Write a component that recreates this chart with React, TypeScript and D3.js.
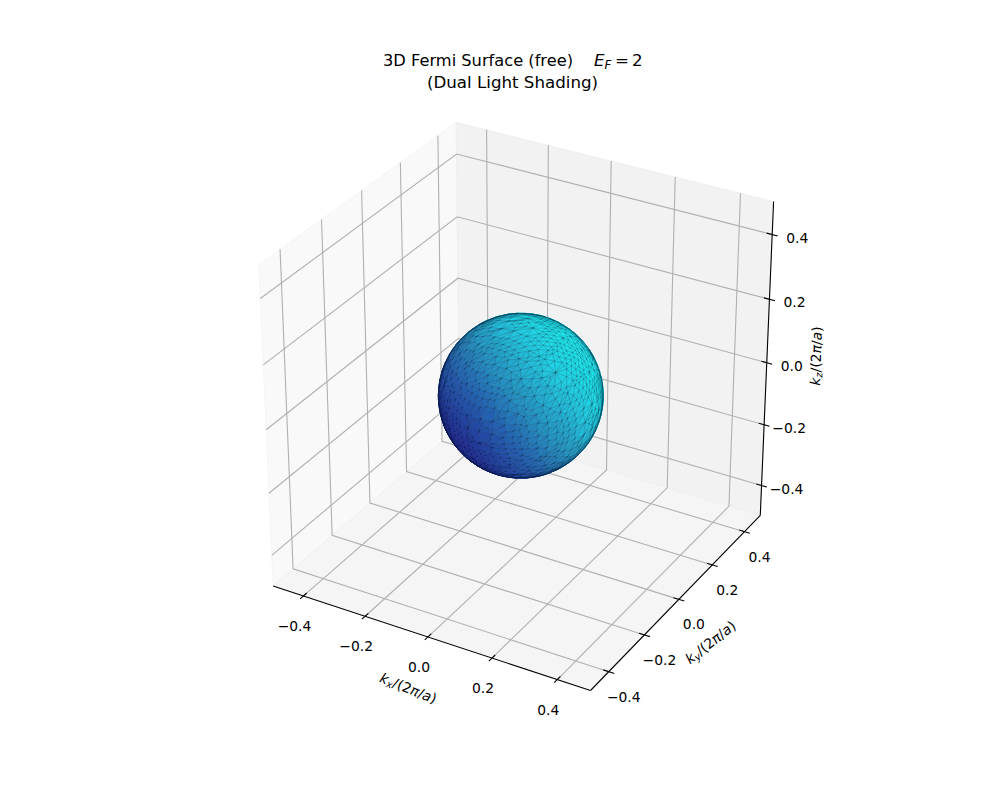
import React from "react";
import * as d3 from "d3";

const W = 1000, H = 800;
const limits = [-0.5, 0.5];
const tickValues = [-0.4, -0.2, 0.0, 0.2, 0.4];
const tickLabels = ["−0.4", "−0.2", "0.0", "0.2", "0.4"];
const fermiEnergy = 2;
const meshStep = 0.037;
const snapStep = 0.008;
const smoothPasses = 1;
const rampStops = [0, 0.25, 0.5, 0.75, 1];
const rampColors = ["#202c94", "#245cb0", "#2592c2", "#22c4dc", "#1ce8ee"];

type V3 = [number, number, number];
const dot = (a: V3, b: V3) => a[0] * b[0] + a[1] * b[1] + a[2] * b[2];
const cross = (a: V3, b: V3): V3 => [a[1] * b[2] - a[2] * b[1], a[2] * b[0] - a[0] * b[2], a[0] * b[1] - a[1] * b[0]];
const norm = (a: V3): V3 => { const l = Math.hypot(a[0], a[1], a[2]); return [a[0] / l, a[1] / l, a[2] / l]; };

// matplotlib mplot3d camera: elev 30, azim -60, dist 10, box aspect 1:1:1
const el = (30 * Math.PI) / 180, az = (-60 * Math.PI) / 180, dist = 10;
const side = (1.8294640721620434 * 25) / 24 / Math.sqrt(3);
const camW: V3 = [Math.cos(el) * Math.cos(az), Math.cos(el) * Math.sin(az), Math.sin(el)];
const camU = norm(cross([0, 0, 1], camW));
const camV = cross(camW, camU);
const world = d3.scaleLinear().domain(limits).range([-side / 2, side / 2]);
const sx = d3.scaleLinear().domain([-0.95 / dist, 0.9 / dist]).range([204.5, 820.5]);
const sy = d3.scaleLinear().domain([-0.95 / dist, 0.9 / dist]).range([712, 96]);

function project(p: V3): [number, number] {
  const q: V3 = [world(p[0]), world(p[1]), world(p[2])];
  const d = dist - dot(q, camW);
  return [sx(dot(q, camU) / d), sy(dot(q, camV) / d)];
}

const path = (pts: V3[], close = false) => {
  const s = d3.line()(pts.map(project)) as string;
  return close ? s + "Z" : s;
};

// Isosurface E(k) = E_F of the free-electron sphere: marching tetrahedra on a k grid,
// with close vertices merged and a little relaxation on the sphere
const radius = Math.sqrt(fermiEnergy) / (2 * Math.PI);
const tetra = [
  [0, 1, 3, 7], [0, 3, 2, 7], [0, 2, 6, 7], [0, 6, 4, 7], [0, 4, 5, 7], [0, 5, 1, 7],
];
function buildMesh() {
  const verts: V3[] = [];
  const index = new Map<string, number>();
  const faces: number[][] = [];
  const f = (p: V3) => Math.hypot(p[0], p[1], p[2]) - radius;
  const vid = (a: V3, b: V3) => {
    const fa = f(a), fb = f(b), t = fa / (fa - fb);
    const p = norm([a[0] + (b[0] - a[0]) * t, a[1] + (b[1] - a[1]) * t, a[2] + (b[2] - a[2]) * t]).map((c) => c * radius) as V3;
    const key = p.map((c) => Math.round(c / snapStep)).join(",");
    if (!index.has(key)) { index.set(key, verts.length); verts.push(p); }
    return index.get(key) as number;
  };
  const push = (a: number, b: number, c: number) => {
    if (a !== b && b !== c && a !== c) faces.push([a, b, c]);
  };
  const grid = d3.range(-0.2955, 0.3, meshStep);
  for (const x of grid) for (const y of grid) for (const z of grid) {
    const cube: V3[] = d3.range(8).map((i) => [x + (i & 1 ? meshStep : 0), y + (i & 2 ? meshStep : 0), z + (i & 4 ? meshStep : 0)] as V3);
    for (const t of tetra) {
      const vs = t.map((i) => cube[i]);
      const ins = vs.filter((v) => f(v) < 0), out = vs.filter((v) => f(v) >= 0);
      if (ins.length === 1) push(vid(ins[0], out[0]), vid(ins[0], out[1]), vid(ins[0], out[2]));
      else if (ins.length === 3) push(vid(ins[0], out[0]), vid(ins[1], out[0]), vid(ins[2], out[0]));
      else if (ins.length === 2) {
        const a = vid(ins[0], out[0]), b = vid(ins[0], out[1]), c = vid(ins[1], out[1]), d = vid(ins[1], out[0]);
        push(a, b, c); push(a, c, d);
      }
    }
  }
  const nbrs: Set<number>[] = verts.map(() => new Set<number>());
  for (const [a, b, c] of faces) {
    nbrs[a].add(b).add(c); nbrs[b].add(a).add(c); nbrs[c].add(a).add(b);
  }
  for (let pass = 0; pass < smoothPasses; pass++) {
    const next = verts.map((v, i) => {
      const s: V3 = [0, 0, 0];
      nbrs[i].forEach((j) => { s[0] += verts[j][0]; s[1] += verts[j][1]; s[2] += verts[j][2]; });
      const n = Math.max(nbrs[i].size, 1);
      return norm([v[0] * 0.5 + (0.5 * s[0]) / n, v[1] * 0.5 + (0.5 * s[1]) / n, v[2] * 0.5 + (0.5 * s[2]) / n]).map((c) => c * radius) as V3;
    });
    next.forEach((v, i) => { verts[i] = v; });
  }
  const tris: { pts: V3[]; n: V3; depth: number }[] = [];
  const edges = new Map<string, [number, number]>();
  for (const [a, b, c] of faces) {
    const n = norm([verts[a][0] + verts[b][0] + verts[c][0], verts[a][1] + verts[b][1] + verts[c][1], verts[a][2] + verts[b][2] + verts[c][2]]);
    const depth = dot(n, camW);
    if (depth < -0.06) continue;
    tris.push({ pts: [verts[a], verts[b], verts[c]], n, depth });
    if (depth < -0.01) continue;
    for (const [p, q] of [[a, b], [b, c], [c, a]]) edges.set(p < q ? `${p}_${q}` : `${q}_${p}`, p < q ? [p, q] : [q, p]);
  }
  tris.sort((p, q) => p.depth - q.depth);
  const edgePath = Array.from(edges.values()).map(([p, q]) => path([verts[p], verts[q]])).join("");
  return { tris, edgePath };
}
const ramp = d3.scaleLinear<string>().domain(rampStops).range(rampColors).clamp(true);
const shade = (n: V3) => {
  const a = dot(n, camU), b = dot(n, camV);
  return ramp(0.53 + 0.45 * a + 0.36 * b);
};

const mesh = buildMesh();
const [lo, hi] = limits;
const tickLine = (p: V3, dir: V3) => {
  const inn = 0.2 / 12, out = 0.2 / 12;
  return path([
    [p[0] - dir[0] * inn, p[1] - dir[1] * inn, p[2] - dir[2] * inn],
    [p[0] + dir[0] * out, p[1] + dir[1] * out, p[2] + dir[2] * out],
  ]);
};

const axisSpecs = [
  { at: (t: number): V3 => [t, lo, lo], dir: [0, -1, 0] as V3, dx: -9, dy: 30 },
  { at: (t: number): V3 => [hi, t, lo], dir: [1, 0, 0] as V3, dx: 15, dy: 25 },
  { at: (t: number): V3 => [hi, hi, t], dir: [1, 0, 0] as V3, dx: 25, dy: 3 },
];

const font = "'DejaVu Sans', sans-serif";

export default function App() {
  return (
    <svg width={W} height={H} viewBox={`0 0 ${W} ${H}`} style={{ position: "absolute", left: 0, top: 0, background: "#fff" }}>
      {/* panes */}
      <path d={path([[lo, lo, lo], [lo, hi, lo], [lo, hi, hi], [lo, lo, hi]], true)} fill="#f9f9f9" stroke="#f4f4f4" strokeWidth={0.8} />
      <path d={path([[lo, hi, lo], [hi, hi, lo], [hi, hi, hi], [lo, hi, hi]], true)} fill="#f2f2f2" stroke="#ececec" strokeWidth={0.8} />
      <path d={path([[lo, lo, lo], [hi, lo, lo], [hi, hi, lo], [lo, hi, lo]], true)} fill="#f5f5f5" stroke="#efefef" strokeWidth={0.8} />
      {/* grid */}
      <g fill="none" stroke="#b0b0b0" strokeWidth={1.1}>
        {tickValues.map((t) => (
          <g key={t}>
            <path d={path([[t, lo, lo], [t, hi, lo], [t, hi, hi]])} />
            <path d={path([[hi, t, lo], [lo, t, lo], [lo, t, hi]])} />
            <path d={path([[lo, lo, t], [lo, hi, t], [hi, hi, t]])} />
          </g>
        ))}
      </g>
      {/* axes */}
      <g fill="none" stroke="#000" strokeWidth={1.1}>
        <path d={path([[lo, lo, lo], [hi, lo, lo]])} />
        <path d={path([[hi, lo, lo], [hi, hi, lo]])} />
        <path d={path([[hi, hi, lo], [hi, hi, hi]])} />
        {axisSpecs.map((a, i) => tickValues.map((t) => <path key={`${i}-${t}`} d={tickLine(a.at(t), a.dir)} />))}
      </g>
      <g fontFamily={font} fontSize={13.89} fill="#000" textAnchor="middle">
        {axisSpecs.map((a, i) =>
          tickValues.map((t, j) => {
            const [x, y] = project(a.at(t));
            return <text key={`${i}-${t}`} x={x + a.dx} y={y + a.dy + 5}>{tickLabels[j]}</text>;
          })
        )}
      </g>
      {/* Fermi surface */}
      <g strokeWidth={0.5} strokeLinejoin="round">
        {mesh.tris.map((m, i) => {
          const col = shade(m.n);
          return <path key={i} d={path(m.pts, true)} fill={col} stroke={col} />;
        })}
      </g>
      <path d={mesh.edgePath} fill="none" stroke="#04102a" strokeOpacity={0.42} strokeWidth={0.5} />
      {/* titles */}
      <g fontFamily={font} fill="#000" fontSize={16.67}>
        <text x={383} y={66} textLength={190} lengthAdjust="spacingAndGlyphs">3D Fermi Surface (free)</text>
        <text x={594} y={66} fontStyle="oblique">E</text>
        <text x={604.5} y={69} fontSize={11.7} fontStyle="oblique">F</text>
        <text x={615} y={66}>=</text>
        <text x={632} y={66}>2</text>
        <text x={512.5} y={88} textAnchor="middle">(Dual Light Shading)</text>
      </g>
      <g fontFamily={font} fill="#000" textAnchor="middle" fontSize={13.89}>
        <text transform="translate(408,689) rotate(22)" dy={4}>
          <tspan fontStyle="oblique">k</tspan><tspan fontSize={9.7} fontStyle="oblique" dy={2}>x</tspan><tspan dy={-2}>/(2</tspan><tspan fontStyle="oblique">π</tspan>/<tspan fontStyle="oblique">a</tspan>)
        </text>
        <text transform="translate(711,643) rotate(-38)" dy={4}>
          <tspan fontStyle="oblique">k</tspan><tspan fontSize={9.7} fontStyle="oblique" dy={2}>y</tspan><tspan dy={-2}>/(2</tspan><tspan fontStyle="oblique">π</tspan>/<tspan fontStyle="oblique">a</tspan>)
        </text>
        <text transform="translate(817,356) rotate(-88)" dy={4}>
          <tspan fontStyle="oblique">k</tspan><tspan fontSize={9.7} fontStyle="oblique" dy={2}>z</tspan><tspan dy={-2}>/(2</tspan><tspan fontStyle="oblique">π</tspan>/<tspan fontStyle="oblique">a</tspan>)
        </text>
      </g>
    </svg>
  );
}
